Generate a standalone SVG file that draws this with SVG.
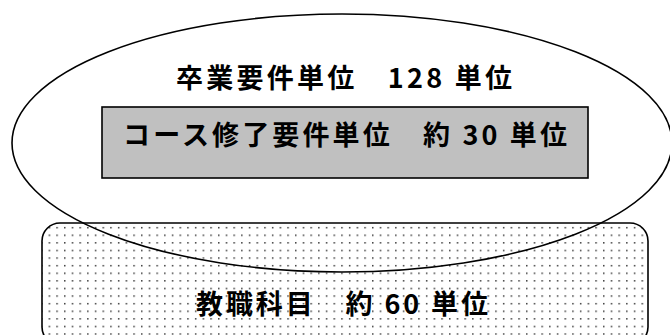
<svg xmlns="http://www.w3.org/2000/svg" width="670" height="335" viewBox="0 0 670 335">
<style>
.lbl{font-family:"Noto Sans CJK JP","Noto Sans CJK SC",sans-serif;font-size:27px;font-weight:700;fill:#000;text-anchor:middle}
.ln{stroke:#000;stroke-width:1.6}
</style>
<defs>
<pattern id="dots" patternUnits="userSpaceOnUse" x="2.4" y="6.5" width="7.7" height="7.6">
<rect x="0" y="0" width="1.5" height="1.5" fill="#3a3a3a"/>
</pattern>
</defs>
<rect width="670" height="335" fill="#fff"/>
<g id="teaching">
<rect class="ln" x="42" y="223" width="606" height="122" rx="18" fill="url(#dots)"/>
<text class="lbl" x="342" y="314" textLength="292" lengthAdjust="spacing">教職科目　約 60 単位</text>
</g>
<g id="graduation">
<ellipse class="ln" cx="342" cy="143" rx="330" ry="129" fill="none"/>
<text class="lbl" x="344" y="88" textLength="336" lengthAdjust="spacing">卒業要件単位　128 単位</text>
</g>
<g id="course">
<rect class="ln" x="102" y="107" width="486" height="71" fill="#c0c0c0"/>
<text class="lbl" x="345" y="145" textLength="444" lengthAdjust="spacing">コース修了要件単位　約 30 単位</text>
</g>
<g id="connectors"/>
</svg>
